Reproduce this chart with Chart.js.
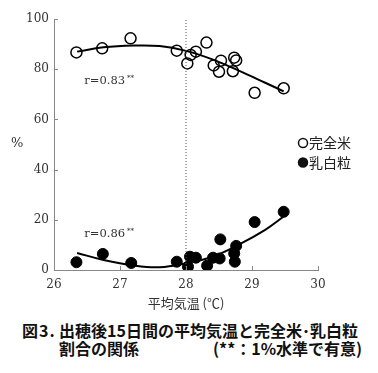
<!DOCTYPE html>
<html>
<head>
<meta charset="utf-8">
<script src="https://cdn.jsdelivr.net/npm/chart.js@4"></script>
<style>
  body { margin: 0; background: #fff; }
  #wrap { position: relative; width: 378px; height: 373px; }
  #chart { position: absolute; left: 0; top: 0; }
  .cap { position: absolute; font-family: "Noto Sans CJK JP"; font-weight: bold; font-size: 16px; color: #111; white-space: pre; line-height: 18px; }
</style>
</head>
<body>
<div id="wrap">
  <canvas id="chart" width="378" height="313"></canvas>
  <div class="cap" style="left:22px; top:321px; letter-spacing:1px;">図3.</div>
  <div class="cap" style="left:59px; top:321px;">出穂後15日間の平均気温と完全米･乳白粒</div>
  <div class="cap" style="left:59px; top:339px;">割合の関係</div>
  <div class="cap" style="left:213px; top:339px;">(**：1%水準で有意)</div>
</div>
<script>
// measured points (mean temp, %)
const tempsWhole = [26.34, 26.73, 27.16, 27.86, 28.02, 28.07, 28.15, 28.31, 28.42, 28.50, 28.53, 28.71, 28.73, 28.76, 29.04, 29.48];
const wholeRice = [86.7, 88.3, 92.3, 87.4, 82.3, 85.7, 87.0, 90.6, 81.5, 79.0, 83.4, 79.2, 84.6, 83.5, 70.6, 72.4];
const tempsChalky = [26.34, 26.74, 27.17, 27.86, 28.03, 28.06, 28.15, 28.32, 28.41, 28.51, 28.52, 28.74, 28.73, 28.76, 29.04, 29.48];
const chalkyRice = [3.1, 6.4, 2.8, 3.3, 1.3, 5.3, 4.9, 1.7, 4.9, 4.6, 12.2, 3.3, 6.6, 9.6, 19.1, 23.2];

// trend curves
const curveTemps = [26.35, 26.75, 27.2, 27.6, 28.0, 28.4, 28.8, 29.2, 29.48];
const wholeFit = [87.0, 88.7, 89.4, 89.2, 87.3, 83.9, 79.4, 74.6, 71.2];
const chalkyFit = [6.8, 4.0, 1.8, 1.1, 2.7, 5.3, 10.1, 16.0, 21.3];

const xTicks = [26, 27, 28, 29, 30];
const yTicks = [0, 20, 40, 60, 80, 100];
const legendLabels = ["完全米", "乳白粒"];
const rLabels = ["r=0.83", "r=0.86"];

const pts = (xs, ys) => xs.map((x, i) => ({ x: x, y: ys[i] }));

// inward tick marks, legend, r values, % label
const extras = {
  id: 'extras',
  afterDraw(chart) {
    const ctx = chart.ctx;
    const xs = chart.scales.x, ys = chart.scales.y;
    const a = chart.chartArea;
    ctx.save();
    ctx.strokeStyle = '#888';
    ctx.lineWidth = 1;
    ctx.beginPath();
    xTicks.forEach(v => {
      const px = Math.round(xs.getPixelForValue(v)) + 0.5;
      ctx.moveTo(px, a.bottom); ctx.lineTo(px, a.bottom - 4);
    });
    yTicks.forEach(v => {
      const py = Math.round(ys.getPixelForValue(v)) + 0.5;
      ctx.moveTo(a.left, py); ctx.lineTo(a.left + 4, py);
    });
    ctx.stroke();

    // r labels
    ctx.fillStyle = '#333';
    ctx.textBaseline = 'middle';
    ctx.textAlign = 'left';
    const rPos = [[26.46, 75.4], [26.46, 14.3]];
    rPos.forEach((p, i) => {
      const px = xs.getPixelForValue(p[0]);
      const py = ys.getPixelForValue(p[1]);
      ctx.font = '11.5px "DejaVu Serif"';
      ctx.fillText(rLabels[i], px, py);
      const w = ctx.measureText(rLabels[i]).width;
      ctx.font = '7px "DejaVu Serif"';
      ctx.fillText('**', px + w + 2, py - 3);
    });

    // % label
    ctx.font = '13px "DejaVu Serif"';
    ctx.fillText('%', 11, 144);

    // legend
    ctx.font = '14px "Noto Sans CJK JP"';
    ctx.fillStyle = '#222';
    legendLabels.forEach((t, i) => {
      const cy = 143 + i * 19.5;
      ctx.beginPath();
      ctx.arc(303, cy, 4.5, 0, Math.PI * 2);
      ctx.lineWidth = 1.5;
      ctx.strokeStyle = '#111';
      if (i === 1) { ctx.fillStyle = '#111'; ctx.fill(); }
      ctx.stroke();
      ctx.fillStyle = '#222';
      ctx.fillText(t, 309, cy);
    });
    ctx.restore();
  }
};

new Chart(document.getElementById('chart'), {
  type: 'scatter',
  data: {
    datasets: [
      {
        data: [{ x: 28, y: 0 }, { x: 28, y: 100 }],
        type: 'line', showLine: true, pointRadius: 0,
        borderColor: '#555', borderWidth: 1, borderDash: [1, 2]
      },
      {
        data: pts(curveTemps, wholeFit),
        type: 'line', showLine: true, pointRadius: 0, tension: 0.4,
        borderColor: '#000', borderWidth: 2
      },
      {
        data: pts(curveTemps, chalkyFit),
        type: 'line', showLine: true, pointRadius: 0, tension: 0.4,
        borderColor: '#000', borderWidth: 2
      },
      {
        label: legendLabels[0],
        data: pts(tempsWhole, wholeRice),
        pointRadius: 5.5, pointBackgroundColor: 'rgba(255,255,255,0)',
        pointBorderColor: '#000', pointBorderWidth: 1.5
      },
      {
        label: legendLabels[1],
        data: pts(tempsChalky, chalkyRice),
        pointRadius: 5.5, pointBackgroundColor: '#000',
        pointBorderColor: '#000', pointBorderWidth: 1
      }
    ]
  },
  options: {
    responsive: false,
    animation: false,
    layout: { padding: { left: 0, right: 60, top: 19, bottom: 0 } },
    plugins: { legend: { display: false }, tooltip: { enabled: false } },
    scales: {
      x: {
        type: 'linear', min: 26, max: 30,
        afterFit: s => { s.height = 43; },
        afterBuildTicks: s => { s.ticks = xTicks.map(v => ({ value: v })); },
        grid: { drawOnChartArea: false, drawTicks: false },
        border: { color: '#888', width: 1 },
        ticks: { padding: 8, color: '#333', font: { family: 'DejaVu Serif', size: 12 } },
        title: {
          display: true, text: '平均気温 (℃)', color: '#333',
          font: { family: 'Noto Sans CJK JP', size: 13 }, padding: { top: 0, bottom: 2 }
        }
      },
      y: {
        min: 0, max: 100,
        afterFit: s => { s.width = 54; },
        afterBuildTicks: s => { s.ticks = yTicks.map(v => ({ value: v })); },
        grid: { drawOnChartArea: false, drawTicks: false },
        border: { color: '#888', width: 1 },
        ticks: { padding: 5, color: '#333', font: { family: 'DejaVu Serif', size: 12 } }
      }
    }
  },
  plugins: [extras]
});
</script>
</body>
</html>
